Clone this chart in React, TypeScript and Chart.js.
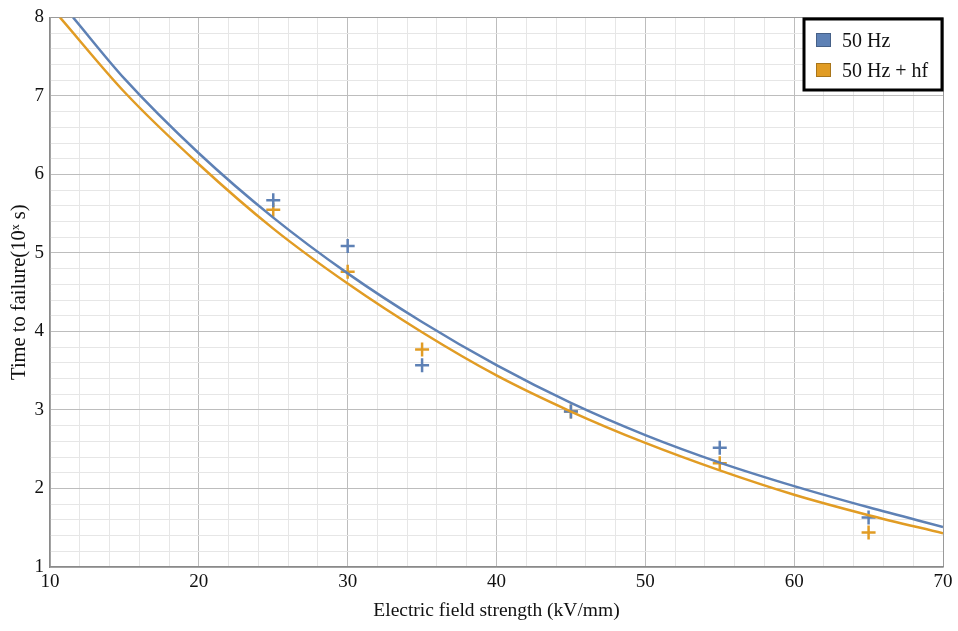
import React, { useEffect, useRef } from "react";
import { Chart, registerables } from "chart.js";

Chart.register(...registerables);

// Fitted curves
const blueFitX = [11.55, 15, 20, 25, 30, 35, 40, 45, 50, 55, 60, 65, 70];
const blueFitY = [8.0, 7.22, 6.27, 5.45, 4.74, 4.12, 3.57, 3.09, 2.68, 2.33, 2.03, 1.76, 1.51];
const orangeFitX = [10.67, 15, 20, 25, 30, 35, 40, 45, 50, 55, 60, 65, 70];
const orangeFitY = [8.0, 7.05, 6.13, 5.31, 4.61, 3.99, 3.44, 2.98, 2.58, 2.23, 1.92, 1.66, 1.43];

// Measured points
const pointX = [25, 30, 35, 45, 55, 65];
const bluePointY = [5.67, 5.09, 3.57, 2.98, 2.52, 1.63];
const orangePointY = [5.55, 4.76, 3.77, 2.98, 2.32, 1.44];

const seriesLabels = ["50 Hz", "50 Hz + hf"];
const seriesColors = ["#5e81b5", "#e19c24"];

const xTitle = "Electric field strength (kV/mm)";
const yTitle = "Time to failure(10\u02E3 s)";

const FONT = "'Liberation Serif', 'Times New Roman', serif";

const toXY = (xs: number[], ys: number[]) => xs.map((x, i) => ({ x, y: ys[i] }));

const legendPlugin = {
  id: "boxLegend",
  afterDraw(chart: any) {
    const ctx = chart.ctx;
    ctx.save();
    const bx = 804, by = 19, bw = 138, bh = 71;
    ctx.fillStyle = "#ffffff";
    ctx.fillRect(bx, by, bw, bh);
    ctx.lineWidth = 3;
    ctx.strokeStyle = "#000000";
    ctx.strokeRect(bx, by, bw, bh);
    ctx.font = `20px ${FONT}`;
    ctx.textBaseline = "alphabetic";
    ctx.textAlign = "left";
    seriesLabels.forEach((label, i) => {
      const y = 33 + i * 30;
      ctx.fillStyle = seriesColors[i];
      ctx.fillRect(816, y, 15, 14);
      ctx.strokeStyle = "rgba(0,0,0,0.25)";
      ctx.lineWidth = 1;
      ctx.strokeRect(816.5, y + 0.5, 14, 13);
      ctx.fillStyle = "#111111";
      ctx.fillText(label, 842, y + 14);
    });
    ctx.restore();
  },
};

const isInt = (v: number, step: number) => Math.abs(v / step - Math.round(v / step)) < 1e-6;

export default function App() {
  const ref = useRef<HTMLCanvasElement>(null);
  useEffect(() => {
    document.body.style.margin = "0";
    const canvas = ref.current!;
    const chart = new Chart(canvas, {
      type: "scatter",
      data: {
        datasets: [
          {
            label: seriesLabels[0],
            data: toXY(blueFitX, blueFitY),
            showLine: true,
            borderColor: seriesColors[0],
            borderWidth: 2.5,
            pointRadius: 0,
            cubicInterpolationMode: "monotone",
          },
          {
            label: seriesLabels[1],
            data: toXY(orangeFitX, orangeFitY),
            showLine: true,
            borderColor: seriesColors[1],
            borderWidth: 2.5,
            pointRadius: 0,
            cubicInterpolationMode: "monotone",
          },
          {
            label: seriesLabels[0] + " data",
            data: toXY(pointX, bluePointY),
            pointStyle: "cross",
            pointRadius: 7,
            borderWidth: 2.5,
            borderColor: seriesColors[0],
            backgroundColor: seriesColors[0],
          },
          {
            label: seriesLabels[1] + " data",
            data: toXY(pointX, orangePointY),
            pointStyle: "cross",
            pointRadius: 7,
            borderWidth: 2.5,
            borderColor: seriesColors[1],
            backgroundColor: seriesColors[1],
          },
        ] as any,
      },
      options: {
        animation: false,
        responsive: false,
        layout: { padding: { top: 16, right: 15, left: 0, bottom: 0 } },
        plugins: {
          legend: { display: false },
          tooltip: { enabled: false },
        },
        scales: {
          x: {
            type: "linear",
            min: 10,
            max: 70,
            afterFit: (s: any) => {
              s.height = 64;
            },
            ticks: {
              stepSize: 2,
              autoSkip: false,
              maxRotation: 0,
              padding: 4,
              color: "#111111",
              font: { family: FONT, size: 19 },
              callback: (v: any) => (isInt(Number(v), 10) ? String(v) : ""),
            },
            grid: {
              drawTicks: false,
              color: (c: any) => {
                const v = c.tick ? c.tick.value : 0;
                if (v >= 70 - 1e-6) return "#9a9a9a";
                return isInt(v, 10) ? "#bdbdbd" : "#e6e6e6";
              },
            },
            border: { color: "#8a8a8a", width: 1.5 },
            title: {
              display: true,
              text: xTitle,
              color: "#111111",
              font: { family: FONT, size: 19.5 },
              padding: { top: 0, bottom: 8 },
            },
          },
          y: {
            type: "linear",
            min: 1,
            max: 8,
            afterFit: (s: any) => {
              s.width = 50;
            },
            ticks: {
              stepSize: 0.2,
              autoSkip: false,
              padding: 6,
              color: "#111111",
              font: { family: FONT, size: 19 },
              callback: (v: any) => (isInt(Number(v), 1) ? String(Math.round(Number(v))) : ""),
            },
            grid: {
              drawTicks: false,
              color: (c: any) => {
                const v = c.tick ? c.tick.value : 0;
                if (v >= 8 - 1e-6) return "#9a9a9a";
                return isInt(v, 1) ? "#bdbdbd" : "#e6e6e6";
              },
            },
            border: { color: "#8a8a8a", width: 1.5 },
            title: {
              display: true,
              text: yTitle,
              color: "#111111",
              font: { family: FONT, size: 20.5 },
              padding: { top: 7, bottom: 0 },
            },
          },
        },
      } as any,
      plugins: [legendPlugin],
    });
    return () => chart.destroy();
  }, []);
  return (
    <div style={{ position: "fixed", left: 0, top: 0, width: 958, height: 631, background: "#fff" }}>
      <canvas ref={ref} width={958} height={631} />
    </div>
  );
}
